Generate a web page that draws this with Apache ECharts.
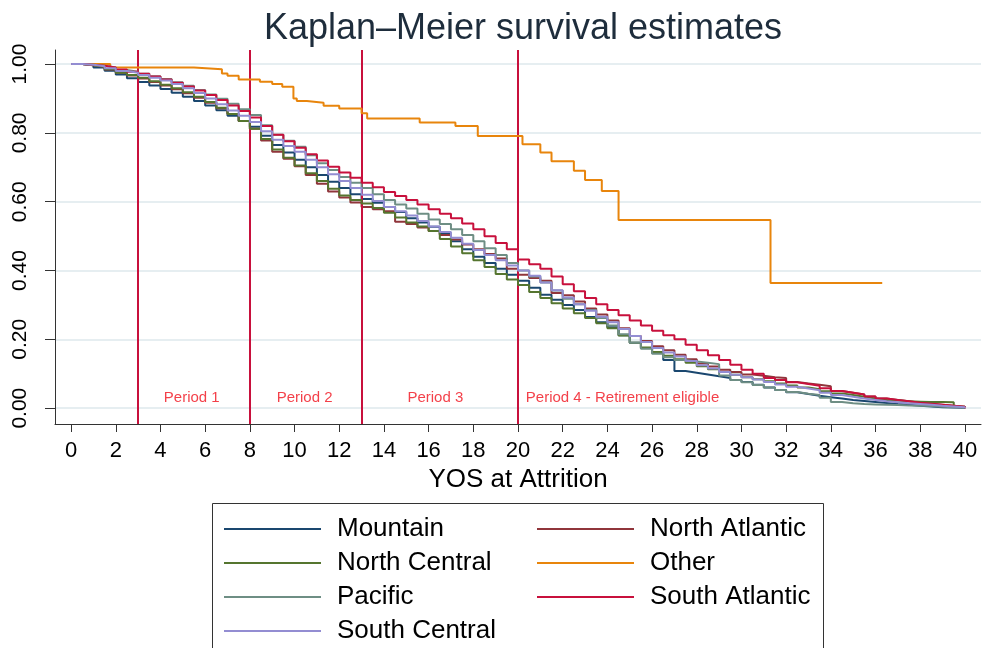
<!DOCTYPE html>
<html><head><meta charset="utf-8">
<script src="https://cdn.jsdelivr.net/npm/echarts@6/dist/echarts.min.js"></script>
<style>html,body{margin:0;padding:0;background:#fff}#c{width:982px;height:648px}</style>
</head><body><div id="c"></div>
<script>
// ---- data (years of service, survival estimates) ----
const yos = [0,0.5,1,1.5,2,2.5,3,3.5,4,4.5,5,5.5,6,6.5,7,7.5,8,8.5,9,9.5,10,10.5,11,11.5,12,12.5,13,13.5,14,14.5,15,15.5,16,16.5,17,17.5,18,18.5,19,19.5,20,20.5,21,21.5,22,22.5,23,23.5,24,24.5,25,25.5,26,26.5,27,27.5,28,28.5,29,29.5,30,30.5,31,31.5,32,32.5,33,33.5,34,34.5,35,35.5,36,36.5,37,37.5,38,38.5,39,39.5,40];

const mountain = [1.000,0.997,0.990,0.981,0.970,0.959,0.948,0.938,0.928,0.917,
0.905,0.893,0.880,0.866,0.850,0.835,0.818,0.792,0.765,0.743,
0.722,0.700,0.678,0.658,0.640,0.622,0.608,0.597,0.585,0.570,
0.552,0.540,0.527,0.506,0.485,0.462,0.440,0.422,0.405,0.388,
0.370,0.350,0.330,0.315,0.300,0.285,0.265,0.250,0.235,0.212,
0.190,0.175,0.160,0.140,0.108,0.103,0.098,0.093,0.088,0.082,
0.076,0.068,0.060,0.053,0.046,0.041,0.036,0.032,0.028,0.024,
0.021,0.018,0.015,0.012,0.010,0.007,0.005,0.003,0.002,0.001,
0.000];

const northAtlantic = [1.000,0.997,0.992,0.984,0.975,0.967,0.958,0.948,0.938,0.927,
0.915,0.902,0.888,0.872,0.855,0.835,0.812,0.778,0.745,0.725,
0.703,0.678,0.652,0.630,0.612,0.598,0.585,0.578,0.572,0.542,
0.535,0.525,0.515,0.503,0.490,0.476,0.462,0.448,0.435,0.405,
0.388,0.378,0.370,0.335,0.328,0.310,0.290,0.272,0.255,0.232,
0.210,0.195,0.180,0.168,0.155,0.142,0.130,0.121,0.112,0.105,
0.098,0.094,0.090,0.088,0.076,0.072,0.068,0.064,0.050,0.045,
0.040,0.034,0.028,0.024,0.020,0.016,0.013,0.010,0.007,0.004,
0.000];

const northCentral = [1.000,0.997,0.992,0.985,0.975,0.968,0.960,0.950,0.940,0.930,
0.918,0.905,0.890,0.873,0.855,0.835,0.812,0.782,0.752,0.728,
0.705,0.683,0.660,0.638,0.618,0.605,0.595,0.582,0.568,0.554,
0.540,0.528,0.515,0.492,0.470,0.450,0.430,0.410,0.390,0.374,
0.358,0.338,0.320,0.305,0.290,0.276,0.262,0.247,0.232,0.211,
0.190,0.176,0.163,0.152,0.142,0.132,0.122,0.113,0.105,0.097,
0.090,0.084,0.078,0.072,0.066,0.060,0.055,0.049,0.043,0.038,
0.033,0.028,0.024,0.022,0.020,0.019,0.018,0.018,0.017,0.004,
0.000];

const pacific = [1.000,0.998,0.995,0.990,0.983,0.978,0.972,0.965,0.957,0.947,
0.937,0.925,0.912,0.899,0.885,0.869,0.852,0.822,0.795,0.777,
0.760,0.735,0.712,0.692,0.672,0.655,0.640,0.622,0.605,0.592,
0.580,0.565,0.548,0.535,0.520,0.503,0.485,0.465,0.445,0.422,
0.400,0.383,0.365,0.342,0.318,0.302,0.285,0.262,0.240,0.215,
0.190,0.173,0.158,0.148,0.140,0.136,0.132,0.128,0.095,0.082,
0.075,0.067,0.060,0.053,0.047,0.042,0.038,0.030,0.018,0.014,
0.012,0.011,0.010,0.009,0.008,0.007,0.006,0.004,0.003,0.002,
0.000];

const southAtlantic = [1.000,0.998,0.995,0.990,0.984,0.978,0.972,0.964,0.955,0.946,
0.935,0.923,0.910,0.896,0.880,0.864,0.845,0.820,0.795,0.776,
0.757,0.738,0.720,0.702,0.685,0.670,0.655,0.642,0.628,0.617,
0.605,0.592,0.578,0.565,0.552,0.537,0.520,0.500,0.480,0.462,
0.432,0.418,0.405,0.383,0.360,0.340,0.320,0.302,0.285,0.270,
0.255,0.240,0.225,0.212,0.200,0.184,0.168,0.154,0.140,0.126,
0.112,0.100,0.088,0.082,0.075,0.070,0.065,0.058,0.050,0.045,
0.040,0.034,0.028,0.024,0.020,0.016,0.013,0.010,0.007,0.004,
0.000];

const southCentral = [1.000,0.998,0.994,0.988,0.980,0.975,0.968,0.960,0.952,0.942,
0.930,0.916,0.900,0.883,0.865,0.850,0.832,0.805,0.780,0.762,
0.745,0.722,0.700,0.680,0.660,0.640,0.620,0.602,0.585,0.572,
0.560,0.544,0.528,0.512,0.495,0.478,0.460,0.445,0.430,0.415,
0.400,0.385,0.365,0.343,0.322,0.302,0.283,0.266,0.250,0.230,
0.210,0.192,0.175,0.162,0.150,0.137,0.125,0.115,0.105,0.097,
0.090,0.083,0.076,0.069,0.062,0.057,0.052,0.045,0.038,0.033,
0.028,0.024,0.020,0.017,0.014,0.012,0.010,0.007,0.005,0.003,
0.000];

// "Other" group: event times and survival after each event
const otherYos = [0,1.75,5.5,6.75,7.0,7.5,8.45,9.0,9.45,9.95,10.1,10.55,11.3,12.0,13.0,13.25,15.6,17.2,18.2,20.2,21.0,21.5,22.5,23.0,23.75,24.5,31.3,36.3];
const otherSurv = [1.000,0.990,0.985,0.973,0.966,0.955,0.949,0.942,0.934,0.900,0.893,0.888,0.879,0.871,0.857,0.842,0.830,0.820,0.791,0.767,0.743,0.718,0.690,0.663,0.631,0.547,0.364,0.364];

const xTicks = [0,2,4,6,8,10,12,14,16,18,20,22,24,26,28,30,32,34,36,38,40];
const yTicks = [0,0.2,0.4,0.6,0.8,1.0];
const periodBounds = [3,8,13,20];
const periodNames = ['Period 1','Period 2','Period 3','Period 4 - Retirement eligible'];
const periodLabelYos = [5.4,10.45,16.3,20.35];
const periodLabelSurv = [0.029,0.029,0.029,0.029];

// legend layout: [name, column, row]
const legendCells = [
  ['Mountain', 0, 0], ['North Atlantic', 1, 0],
  ['North Central', 0, 1], ['Other', 1, 1],
  ['Pacific', 0, 2], ['South Atlantic', 1, 2],
  ['South Central', 0, 3]
];

// ---- chart ----
const FONT = '"Liberation Sans", Arial, Helvetica, sans-serif';
const chart = echarts.init(document.getElementById('c'), null, {renderer: 'canvas'});

const groups = [
  {name: 'Mountain', x: yos, y: mountain, color: '#1a476f'},
  {name: 'North Atlantic', x: yos, y: northAtlantic, color: '#90353b'},
  {name: 'North Central', x: yos, y: northCentral, color: '#55752f'},
  {name: 'Other', x: otherYos, y: otherSurv, color: '#e8850c'},
  {name: 'Pacific', x: yos, y: pacific, color: '#6e8e84'},
  {name: 'South Atlantic', x: yos, y: southAtlantic, color: '#c8103c'},
  {name: 'South Central', x: yos, y: southCentral, color: '#938dd2'}
];

const series = groups.map((g, i) => ({
  name: g.name,
  type: 'line',
  step: 'end',
  symbol: 'none',
  data: g.x.map((t, k) => [t, g.y[k]]),
  lineStyle: {width: 2, color: g.color},
  itemStyle: {color: g.color},
  emphasis: {disabled: true},
  z: 3 + i,
  animation: false
}));

series.push({
  name: 'periods',
  type: 'scatter',
  symbolSize: 0,
  silent: true,
  animation: false,
  z: 2,
  data: periodNames.map((n, i) => ({
    value: [periodLabelYos[i], periodLabelSurv[i]],
    label: {align: i === 3 ? 'left' : 'center'}
  })),
  label: {
    show: true,
    position: 'inside',
    formatter: p => periodNames[p.dataIndex],
    color: '#f0101c',
    fontSize: 15,
    fontFamily: FONT
  },
  markLine: {
    silent: true,
    animation: false,
    symbol: ['none', 'none'],
    label: {show: false},
    lineStyle: {color: '#c8103c', width: 2, type: 'solid'},
    emphasis: {disabled: true},
    data: periodBounds.map(v => ({xAxis: v}))
  }
});

const legendText = {
  fontSize: 26, color: '#000', fontFamily: FONT,
  rich: {g: {width: 11}}
};
const LINE_ICON = 'path://M0,0h100v2.2h-100z';
const COL_LEFT = [224, 537];
const ROW_TOP = 516, ROW_STEP = 34;

const legends = legendCells.map(([name, col, row]) => ({
  data: [{name: name, icon: LINE_ICON}],
  orient: 'horizontal', left: COL_LEFT[col], top: ROW_TOP + row * ROW_STEP,
  padding: 0, itemWidth: 97, itemHeight: 24, selectedMode: false, symbolKeepAspect: true,
  formatter: n => '{g|}' + n, textStyle: legendText
}));

const option = {
  backgroundColor: '#ffffff',
  animation: false,
  title: {
    text: 'Kaplan\u2013Meier survival estimates',
    left: 518, textAlign: 'center', top: 6,
    textStyle: {fontSize: 36, fontWeight: 'normal', color: '#1e2d3c', fontFamily: FONT}
  },
  grid: {left: 55, right: 1, top: 50, height: 374, containLabel: false, outerBoundsMode: 'none'},
  xAxis: {
    type: 'value', min: -0.72, max: 40.72,
    name: 'YOS at Attrition', nameLocation: 'middle', nameGap: 40,
    nameTextStyle: {fontSize: 26, color: '#000', fontFamily: FONT},
    axisLine: {show: true, onZero: false, lineStyle: {color: '#333', width: 1}},
    axisTick: {show: true, length: 8, customValues: xTicks, lineStyle: {color: '#333', width: 1}},
    axisLabel: {customValues: xTicks, fontSize: 22, color: '#000', margin: 16, fontFamily: FONT},
    splitLine: {show: false}
  },
  yAxis: {
    type: 'value', min: -0.046, max: 1.041,
    axisLine: {show: true, onZero: false, lineStyle: {color: '#333', width: 1}},
    axisTick: {show: true, length: 10, customValues: yTicks, lineStyle: {color: '#333', width: 1}},
    axisLabel: {customValues: yTicks, rotate: 90, fontSize: 21, color: '#000', margin: 24,
      fontFamily: FONT, formatter: v => v.toFixed(2)},
    splitLine: {show: true, lineStyle: {color: '#e6eef1', width: 2}}
  },
  legend: legends,
  graphic: [{
    type: 'rect', silent: true, z: -1,
    shape: {x: 212.5, y: 503.5, width: 611, height: 170},
    style: {fill: 'none', stroke: '#333', lineWidth: 1}
  }],
  series: series
};
chart.setOption(option);
</script>
</body></html>
